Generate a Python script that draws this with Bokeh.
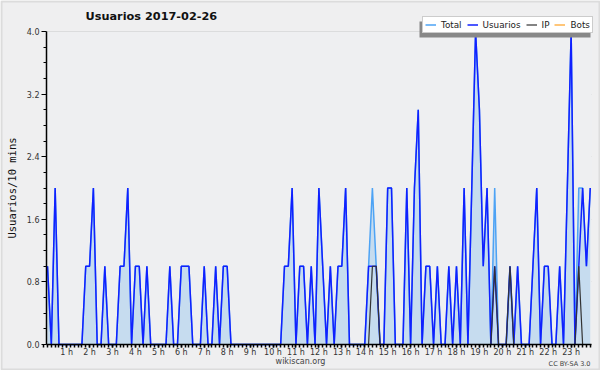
from bokeh.plotting import figure
from bokeh.models import (Range1d, FixedTicker, PrintfTickFormatter, Legend, LegendItem,
                          BoxAnnotation, Label, ColumnDataSource)
from bokeh.embed import file_html
from bokeh.resources import INLINE

# ten-minute slots of 2017-02-26 (0 .. 143); slot 0 lies just left of the drawn axis
slots = list(range(144))
hour_labels = ["%d h" % h for h in range(1, 24)]

usuarios = [1,1,0,2,0,0,0,0,0,0,0,1,
            1,2,0,0,1,0,0,0,1,1,2,0,
            1,1,0,1,0,0,0,0,0,1,0,0,
            1,1,1,0,0,0,1,0,0,1,0,1,
            1,0,0,0,0,0,0,0,0,0,0,0,
            0,0,0,1,1,2,0,1,1,0,1,0,
            2,1,0,1,0,1,1,2,0,0,0,0,
            0,1,1,1,0,0,2,2,0,0,0,2,
            0,2,3,0,1,1,0,1,0,0,1,0,
            1,0,2,0,2,4,3,1,2,0,1,0,
            0,0,1,0,1,0,0,0,1,2,0,1,
            1,0,0,1,0,2,4,0,1,2,1,2]

total = [1,1,0,2,0,0,0,0,0,0,0,1,
         1,2,0,0,1,0,0,0,1,1,2,0,
         1,1,0,1,0,0,0,0,0,1,0,0,
         1,1,1,0,0,0,1,0,0,1,0,1,
         1,0,0,0,0,0,0,0,0,0,0,0,
         0,0,0,1,1,2,0,1,1,0,1,0,
         2,1,0,1,0,1,1,2,0,0,0,0,
         0,1,2,1,0,0,2,2,0,0,0,2,
         0,2,3,0,1,1,0,1,0,0,1,0,
         1,0,2,0,2,4,3,1,2,0,2,0,
         0,0,1,0,1,0,0,0,1,2,0,1,
         1,0,0,1,0,2,4,0,2,2,1,2]

ip = [0,0,0,0,0,0,0,0,0,0,0,0,
      0,0,0,0,0,0,0,0,0,0,0,0,
      0,0,0,0,0,0,0,0,0,0,0,0,
      0,0,0,0,0,0,0,0,0,0,0,0,
      0,0,0,0,0,0,0,0,0,0,0,0,
      0,0,0,0,0,0,0,0,0,0,0,0,
      0,0,0,0,0,0,0,0,0,0,0,0,
      0,0,1,1,0,0,0,0,0,0,0,0,
      0,0,0,0,0,0,0,0,0,0,0,0,
      0,0,0,0,0,0,0,0,0,0,1,0,
      0,0,1,0,0,0,0,0,0,0,0,0,
      0,0,0,0,0,0,0,0,1,0,0,0]

bots = [0,0,0,0,0,0,0,0,0,0,0,0,
        0,0,0,0,0,0,0,0,0,0,0,0,
        0,0,0,0,0,0,0,0,0,0,0,0,
        0,0,0,0,0,0,0,0,0,0,0,0,
        0,0,0,0,0,0,0,0,0,0,0,0,
        0,0,0,0,0,0,0,0,0,0,0,0,
        0,0,0,0,0,0,0,0,0,0,0,0,
        0,0,0,0,0,0,0,0,0,0,0,0,
        0,0,0,0,0,0,0,0,0,0,0,0,
        0,0,0,0,0,0,0,0,0,0,0,0,
        0,0,0,0,0,0,0,0,0,0,0,0,
        0,0,0,0,0,0,0,0,0,0,0,0]

y_ticks = [0.0, 0.8, 1.6, 2.4, 3.2, 4.0]
y_minor = [0.2, 0.4, 0.6, 1.0, 1.2, 1.4, 1.8, 2.0, 2.2, 2.6, 2.8, 3.0, 3.4, 3.6, 3.8]

# visible window of the chart (slot units / value units)
X_LO, X_HI = 0.73, 143.33
Y_LO, Y_HI = 0.0, 4.0

vis = slice(1, None)
src = ColumnDataSource(dict(x=slots[vis], total=total[vis], usuarios=usuarios[vis],
                            ip=ip[vis], bots=bots[vis], zero=[0] * len(slots[vis])))

FONT = "DejaVu Sans"
BG = "#efeff0"

# the frame covers the whole canvas; axes are pinned inside it with fixed_location
p = figure(width=600, height=370, output_backend="svg", toolbar_location=None,
           x_range=Range1d(-11.30, 145.68), y_range=Range1d(-0.332, 4.396),
           min_border=0, min_border_left=0, min_border_right=0,
           min_border_top=0, min_border_bottom=0, title=None)
p.border_fill_color = BG
p.background_fill_color = BG
p.outline_line_color = None

# plot area background
p.add_layout(BoxAnnotation(left=X_LO, right=X_HI, bottom=Y_LO, top=Y_HI,
                           fill_color="#eeeff1", fill_alpha=1, line_color=None,
                           level="underlay"))

# area and lines
p.varea(x="x", y1="zero", y2="total", source=src, fill_color="#c6dcef", fill_alpha=1)
r_total = p.line("x", "total", source=src, line_color="#4da3f5", line_width=1.5)
r_users = p.line("x", "usuarios", source=src, line_color="#1020ff", line_width=1.5)
r_ip = p.line("x", "ip", source=src, line_color="#333333", line_width=1.2)
r_bots = p.line("x", "bots", source=src, line_color="#ffa020", line_width=1.2)

# x axis
xa = p.xaxis[0]
xa.fixed_location = Y_LO
xa.bounds = (X_LO, X_HI)
xa.ticker = FixedTicker(ticks=[6 * h for h in range(1, 24)], minor_ticks=slots)
xa.major_label_overrides = {6 * h: hour_labels[h - 1] for h in range(1, 24)}
xa.major_label_text_font = FONT
xa.major_label_text_font_size = "8px"
xa.major_label_text_color = "#333333"
xa.major_label_standoff = 0
xa.major_tick_in = 0
xa.major_tick_out = 3
xa.minor_tick_in = 0
xa.minor_tick_out = 3
xa.axis_line_color = "black"
xa.axis_line_width = 1.5
xa.major_tick_line_color = "black"
xa.minor_tick_line_color = "black"
xa.minor_tick_line_width = 1.5
xa.major_tick_line_width = 1.5

# y axis
ya = p.yaxis[0]
ya.fixed_location = X_LO
ya.bounds = (Y_LO, Y_HI)
ya.ticker = FixedTicker(ticks=y_ticks, minor_ticks=y_minor)
ya.formatter = PrintfTickFormatter(format="%.1f")
ya.major_label_text_font = FONT
ya.major_label_text_font_size = "8px"
ya.major_label_text_color = "#333333"
ya.major_label_standoff = 2
ya.major_tick_in = 0
ya.major_tick_out = 5
ya.minor_tick_in = 0
ya.minor_tick_out = 3
ya.axis_line_color = "black"
ya.axis_line_width = 1.5
ya.axis_label = "Usuarios/10 mins"
ya.axis_label_text_font = "DejaVu Sans Mono"
ya.axis_label_text_font_size = "10.5px"
ya.axis_label_text_font_style = "normal"
ya.axis_label_text_color = "#111111"
ya.axis_label_standoff = 6

p.xgrid.visible = False
g = p.ygrid[0]
g.ticker = FixedTicker(ticks=y_ticks)
g.grid_line_color = "#c8c8c8"
g.grid_line_width = 1
try:
    g.cross_bounds = (X_LO, X_HI)
except Exception:
    g.visible = False
    p.segment(x0=[X_LO] * len(y_ticks), x1=[X_HI] * len(y_ticks), y0=y_ticks, y1=y_ticks,
              line_color="#c8c8c8", line_width=1, level="underlay")

# title
p.add_layout(Label(x=85, y=16, x_units="canvas", y_units="canvas",
                   text="Usuarios  2017-02-26", text_font=FONT, text_font_size="11.3px",
                   text_font_style="bold", text_color="#111111",
                   text_align="left", text_baseline="middle"))

# legend shadow then legend
p.add_layout(BoxAnnotation(left=419, right=590, top=21, bottom=37,
                           left_units="canvas", right_units="canvas",
                           top_units="canvas", bottom_units="canvas",
                           fill_color="#888888", fill_alpha=1, line_color=None))

legend = Legend(items=[LegendItem(label="Total", renderers=[r_total]),
                       LegendItem(label="Usuarios", renderers=[r_users]),
                       LegendItem(label="IP", renderers=[r_ip]),
                       LegendItem(label="Bots", renderers=[r_bots])],
                location=(422, 337), orientation="horizontal",
                label_text_font=FONT, label_text_font_size="8.8px", label_text_color="#222222",
                glyph_width=11, glyph_height=11, label_height=11, label_width=1,
                label_standoff=5, spacing=5, padding=2, margin=0,
                border_line_color="#999999", border_line_width=1,
                background_fill_color="white", background_fill_alpha=1)
p.add_layout(legend)

p.add_layout(Label(x=300, y=361, x_units="canvas", y_units="canvas", text="wikiscan.org",
                   text_font=FONT, text_font_size="8px", text_color="#444444",
                   text_align="center", text_baseline="middle"))
p.add_layout(Label(x=590, y=363, x_units="canvas", y_units="canvas", text="CC BY-SA 3.0",
                   text_font=FONT, text_font_size="6.5px", text_color="#444444",
                   text_align="right", text_baseline="middle"))

p.add_layout(BoxAnnotation(left=1, right=599, top=1, bottom=369,
                           left_units="canvas", right_units="canvas",
                           top_units="canvas", bottom_units="canvas",
                           fill_alpha=0, line_color="#b0b0b0", line_width=2))

open("out.html", "w").write(file_html(p, INLINE))
